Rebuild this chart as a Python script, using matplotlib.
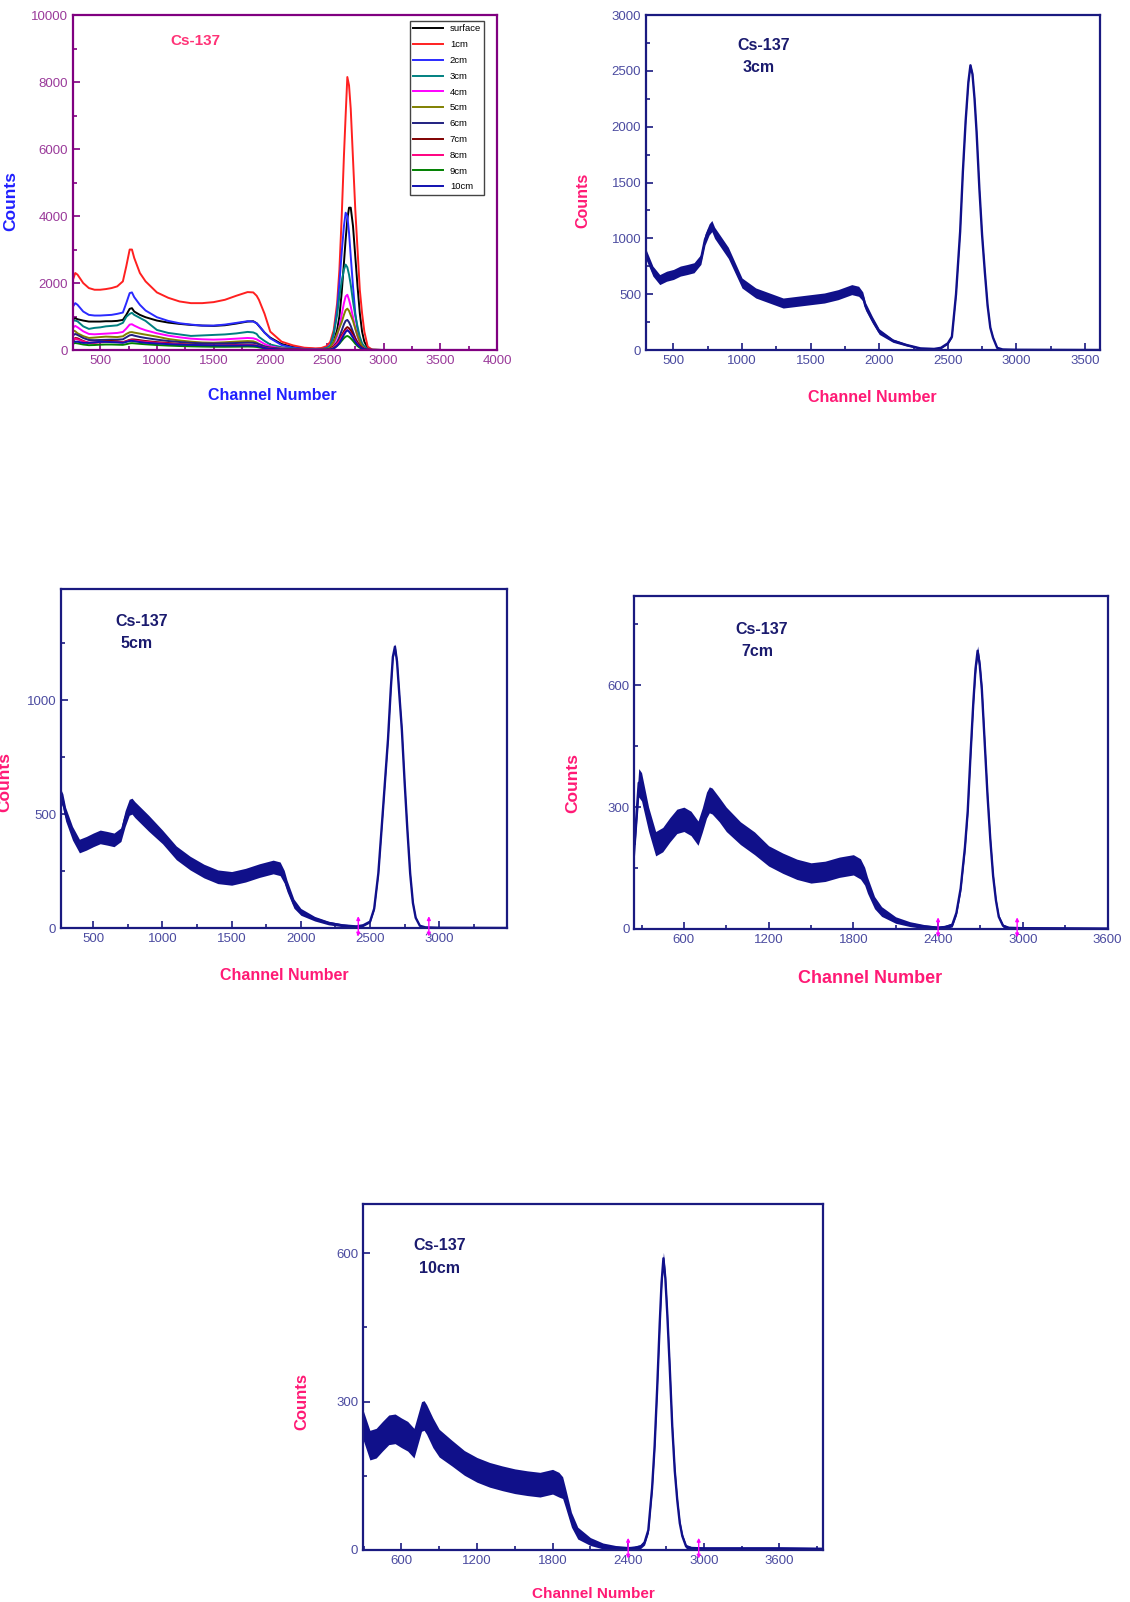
import matplotlib
matplotlib.use("Agg")
import matplotlib.pyplot as plt
from matplotlib.ticker import MultipleLocator
import numpy as np

plt.rcParams["font.family"] = ["Liberation Sans", "DejaVu Sans"]

# channel grid the spectra were read on
channels = [250, 280, 300, 350, 400, 450, 500, 550, 600, 650,
            700, 730, 760, 780, 800, 850, 900, 1000, 1100, 1200,
            1300, 1400, 1500, 1600, 1700, 1800, 1850, 1880, 1900, 1950,
            2000, 2100, 2200, 2300, 2400, 2450, 2500, 2530, 2560, 2590,
            2610, 2630, 2650, 2665, 2680, 2695, 2710, 2730, 2750, 2770,
            2790, 2810, 2830, 2860, 2900, 3000, 3600, 4000]

surface = [900, 950, 920, 880, 850, 850, 850, 860, 860, 870,
           900, 1050, 1230, 1250, 1150, 1050, 980, 880, 820, 780,
           750, 730, 720, 740, 790, 850, 860, 800, 720, 520,
           370, 180, 90, 50, 30, 30, 50, 100, 250, 600,
           1000, 1700, 2600, 3300, 3900, 4250, 4250, 3700, 2800, 1900,
           1100, 550, 250, 60, 10, 0, 0, 0]
cm1 = [2000, 2300, 2250, 2000, 1850, 1800, 1800, 1820, 1850, 1900,
       2050, 2500, 3000, 3000, 2750, 2300, 2050, 1720, 1560, 1450,
       1400, 1400, 1430, 1500, 1620, 1730, 1720, 1620, 1500, 1080,
       550, 250, 140, 70, 50, 60, 120, 250, 600, 1400,
       2400, 3950, 5800, 7000, 8150, 7900, 7200, 5700, 4200, 3000,
       1800, 1100, 550, 100, 10, 0, 0, 0]
cm2 = [1250, 1400, 1350, 1150, 1050, 1030, 1030, 1040, 1050, 1080,
       1120, 1400, 1700, 1720, 1580, 1350, 1180, 980, 870, 800,
       760, 730, 730, 760, 810, 860, 850, 800, 730, 520,
       350, 150, 70, 35, 20, 25, 60, 150, 450, 1200,
       2000, 2900, 3700, 4100, 4000, 3500, 2800, 1900, 1100, 600,
       280, 120, 50, 10, 0, 0, 0, 0]
cm3 = [880, 880, 857, 707, 631, 661, 677, 707, 721, 737,
       812, 990, 1080, 1110, 1050, 960, 870, 600, 511, 466,
       421, 436, 451, 466, 496, 541, 526, 481, 391, 271,
       165, 84, 45, 15, 10, 20, 60, 120, 500, 1060,
       1600, 2050, 2400, 2550, 2470, 2250, 1950, 1450, 1030, 700,
       400, 200, 110, 20, 5, 2, 0, 0]
cm4 = [650, 720, 680, 560, 480, 470, 480, 490, 500, 510,
       540, 640, 760, 770, 730, 650, 590, 500, 430, 380,
       340, 320, 310, 320, 340, 360, 350, 320, 280, 180,
       110, 50, 25, 12, 8, 10, 25, 60, 180, 420,
       700, 1050, 1400, 1600, 1650, 1500, 1300, 980, 650, 400,
       220, 100, 40, 10, 2, 0, 0, 0]
cm5 = [600, 560, 500, 416, 360, 372, 387, 400, 394, 387,
       410, 480, 530, 535, 520, 490, 460, 400, 330, 285,
       250, 225, 218, 232, 252, 268, 260, 225, 185, 107,
       71, 41, 22, 12, 7, 12, 28, 85, 240, 490,
       660, 830, 1050, 1190, 1235, 1170, 1040, 870, 640, 430,
       240, 110, 45, 10, 3, 1, 0, 0]
cm6 = [420, 480, 450, 360, 300, 295, 300, 305, 310, 310,
       320, 380, 440, 450, 430, 390, 360, 310, 270, 240,
       215, 200, 195, 200, 210, 220, 215, 195, 170, 110,
       70, 32, 16, 8, 5, 6, 15, 35, 100, 240,
       390, 580, 770, 870, 900, 830, 720, 540, 360, 220,
       120, 55, 22, 6, 1, 0, 0, 0]
cm7 = [210, 360, 350, 270, 210, 220, 244, 265, 270, 260,
       236, 268, 305, 318, 315, 294, 270, 236, 211, 180,
       162, 147, 138, 142, 152, 158, 148, 130, 108, 65,
       43, 22, 12, 6, 3, 5, 10, 40, 100, 200,
       290, 430, 560, 640, 685, 650, 590, 460, 330, 220,
       130, 70, 30, 8, 3, 2, 1, 0]
cm8 = [300, 340, 320, 260, 220, 220, 230, 240, 240, 235,
       230, 255, 285, 290, 285, 265, 245, 215, 190, 170,
       150, 140, 133, 135, 142, 148, 142, 128, 110, 70,
       45, 22, 11, 6, 4, 5, 10, 28, 80, 190,
       270, 390, 500, 570, 600, 560, 500, 390, 270, 170,
       95, 50, 22, 6, 2, 0, 0, 0]
cm9 = [180, 210, 200, 165, 145, 150, 160, 165, 165, 160,
       155, 175, 200, 205, 200, 185, 172, 150, 133, 120,
       110, 103, 98, 97, 100, 104, 100, 92, 80, 50,
       30, 14, 7, 4, 3, 3, 6, 18, 55, 130,
       190, 275, 355, 400, 420, 395, 350, 275, 190, 120,
       68, 36, 16, 4, 1, 0, 0, 0]
cm10 = [250, 250, 250, 212, 216, 230, 243, 245, 237, 230,
        216, 243, 270, 272, 264, 237, 216, 196, 176, 162,
        152, 145, 139, 135, 132, 138, 132, 126, 108, 61,
        34, 17, 8, 4, 3, 4, 7, 15, 40, 125,
        210, 325, 455, 540, 590, 550, 480, 370, 250, 160,
        100, 54, 28, 7, 4, 3, 3, 2]

# half width of the statistical scatter band in the single-depth plots
noise_3cm = [45, 45, 45, 45, 45, 45, 45, 45, 45, 45,
             45, 50, 50, 50, 50, 50, 50, 45, 45, 45,
             45, 45, 45, 45, 45, 45, 45, 40, 35, 30,
             25, 15, 10, 8, 8, 8, 8, 10, 15, 15,
             15, 15, 15, 15, 15, 15, 15, 15, 15, 15,
             15, 12, 10, 8, 5, 3, 3, 3]
noise_5cm = [30, 30, 30, 30, 30, 30, 30, 30, 30, 30,
             30, 35, 35, 35, 35, 35, 35, 30, 30, 30,
             30, 30, 30, 30, 30, 30, 30, 28, 25, 20,
             15, 10, 8, 6, 5, 5, 5, 6, 8, 10,
             10, 12, 12, 12, 12, 12, 12, 12, 10, 10,
             8, 6, 5, 4, 3, 2, 2, 2]
noise_7cm = [30, 35, 35, 30, 30, 30, 30, 30, 30, 30,
             30, 30, 32, 32, 32, 30, 30, 28, 28, 25,
             25, 25, 25, 25, 25, 25, 25, 22, 20, 15,
             12, 8, 6, 5, 4, 4, 5, 6, 8, 10,
             10, 12, 12, 12, 12, 12, 12, 12, 10, 10,
             8, 6, 5, 4, 3, 3, 3, 3]
noise_10cm = [30, 30, 30, 30, 30, 30, 30, 30, 30, 30,
              30, 30, 30, 30, 30, 30, 28, 26, 25, 25,
              25, 25, 25, 25, 25, 25, 25, 22, 20, 15,
              12, 8, 6, 5, 4, 4, 4, 5, 6, 8,
              10, 10, 12, 12, 12, 12, 12, 12, 10, 10,
              8, 6, 5, 4, 3, 3, 3, 3]

depth_labels = ["surface", "1cm", "2cm", "3cm", "4cm", "5cm",
                "6cm", "7cm", "8cm", "9cm", "10cm"]
depth_series = [surface, cm1, cm2, cm3, cm4, cm5, cm6, cm7, cm8, cm9, cm10]
depth_colors = ["#000000", "#FF2020", "#2A2AFF", "#008080", "#FF00FF",
                "#808000", "#202080", "#800000", "#FF0080", "#008000",
                "#1010B0"]

roi_5cm = [2415, 2925]
roi_7cm = [2400, 2960]
roi_10cm = [2400, 2960]

NAVY = "#10108A"
PINK = "#FF1A75"
TICKBLUE = "#4B4BA0"


def style(ax, spine_c, tick_c, xmaj, xmin_, ymaj, ymin_, lw=1.6):
    for s in ax.spines.values():
        s.set_color(spine_c)
        s.set_linewidth(lw)
    ax.xaxis.set_major_locator(MultipleLocator(xmaj))
    ax.xaxis.set_minor_locator(MultipleLocator(xmin_))
    ax.yaxis.set_major_locator(MultipleLocator(ymaj))
    ax.yaxis.set_minor_locator(MultipleLocator(ymin_))
    ax.tick_params(which="both", direction="in", color=spine_c,
                   labelcolor=tick_c, labelsize=9.5, width=1.2)
    ax.tick_params(which="major", length=5)
    ax.tick_params(which="minor", length=3)


fig = plt.figure(figsize=(11.3, 16.02), dpi=100)

# ---- all depths together
ax1 = fig.add_axes([0.0646, 0.7815, 0.3752, 0.2091])
for lab, ys, c in zip(depth_labels, depth_series, depth_colors):
    ax1.plot(channels, ys, color=c, lw=1.4, label=lab)
ax1.set_xlim(260, 4000)
ax1.set_ylim(0, 10000)
style(ax1, "#800080", "#9A3A9A", 500, 250, 2000, 1000)
ax1.set_xlabel("Channel Number", color="#2020FF", fontsize=11.5, fontweight="bold")
ax1.set_ylabel("Counts", color="#2020FF", fontsize=12.5, fontweight="bold")
ax1.xaxis.set_label_coords(0.47, -0.113)
ax1.yaxis.set_label_coords(-0.129, 0.445)
ax1.text(0.23, 0.923, "Cs-137", transform=ax1.transAxes, color="#FF3377",
         fontsize=11, fontweight="bold", va="center")
leg = ax1.legend(loc="upper left", bbox_to_anchor=(0.783, 0.996), fontsize=6.8,
                 labelspacing=0.72, handlelength=3.2, handletextpad=0.7,
                 borderpad=0.35, fancybox=False, framealpha=1)
leg.get_frame().set_edgecolor("#444444")
leg.get_frame().set_linewidth(1.0)


def single(rect, counts, noise, depth, xlim, ylim, xstep, ystep,
           xlab_pos, ylab_pos, title_pos, roi=None, xfs=11.5, yfs=12):
    ax = fig.add_axes(rect)
    ys = np.array(counts, dtype=float)
    dn = np.array(noise, dtype=float)
    ax.fill_between(channels, np.clip(ys - dn, 0, None), ys + dn,
                    color=NAVY, lw=0)
    ax.plot(channels, ys, color=NAVY, lw=1.7)
    ax.set_xlim(*xlim)
    ax.set_ylim(*ylim)
    style(ax, "#1A1A80", TICKBLUE, xstep, xstep / 2, ystep, ystep / 2)
    ax.set_xlabel("Channel Number", color=PINK, fontsize=xfs, fontweight="bold")
    ax.set_ylabel("Counts", color=PINK, fontsize=yfs, fontweight="bold")
    ax.xaxis.set_label_coords(*xlab_pos)
    ax.yaxis.set_label_coords(*ylab_pos)
    tx, ty = title_pos
    ax.text(tx, ty, "Cs-137", transform=ax.transAxes, color="#1A1A6E",
            fontsize=11.5, fontweight="bold", va="center")
    ax.text(tx + 0.011, ty - 0.066, depth, transform=ax.transAxes,
            color="#1A1A6E", fontsize=11.5, fontweight="bold", va="center")
    if roi:
        for xr in roi:
            ax.annotate("", xy=(xr, -0.025), xytext=(xr, 0.035),
                        xycoords=("data", "axes fraction"),
                        textcoords=("data", "axes fraction"),
                        arrowprops=dict(arrowstyle="<|-|>", color="#FF00FF",
                                        lw=1.0, mutation_scale=5,
                                        shrinkA=0, shrinkB=0),
                        annotation_clip=False)
    return ax


single([0.5717, 0.7815, 0.4018, 0.2091], cm3, noise_3cm, "3cm",
       (300, 3610), (0, 3000), 500, 500,
       (0.499, -0.12), (-0.122, 0.448), (0.202, 0.91), yfs=11.5)
single([0.0540, 0.4207, 0.3947, 0.2119], cm5, noise_5cm, "5cm",
       (267, 3490), (0, 1490), 500, 500,
       (0.5, -0.117), (-0.109, 0.431), (0.122, 0.904), roi=roi_5cm, yfs=12.5)
single([0.5615, 0.4201, 0.4186, 0.2079], cm7, noise_7cm, "7cm",
       (250, 3600), (0, 820), 600, 300,
       (0.499, -0.122), (-0.115, 0.437), (0.214, 0.900), roi=roi_7cm,
       xfs=13, yfs=12.5)
single([0.3212, 0.0325, 0.4075, 0.2160], cm10, noise_10cm, "10cm",
       (295, 3950), (0, 700), 600, 300,
       (0.5, -0.106), (-0.116, 0.428), (0.110, 0.880), roi=roi_10cm,
       xfs=11, yfs=12)

fig.savefig("out.png", dpi=100)
